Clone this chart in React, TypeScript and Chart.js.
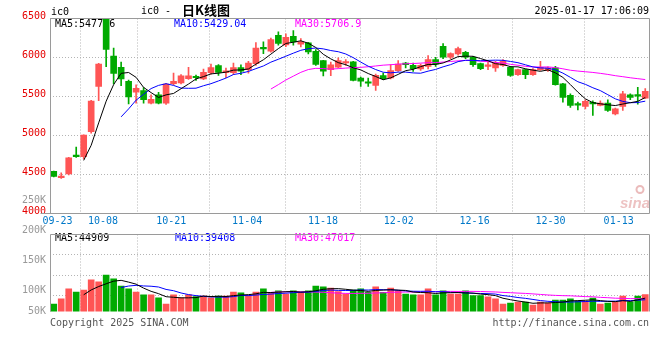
import React, { useEffect, useRef } from 'react';
import { Chart, registerables } from 'chart.js';

Chart.register(...registerables);

// ---------------- data ----------------
const dates = ['09-20','09-23','09-24','09-25','09-26','09-27','09-30','10-08','10-09','10-10','10-11','10-14','10-15','10-16','10-17','10-18','10-21','10-22','10-23','10-24','10-25','10-28','10-29','10-30','10-31','11-01','11-04','11-05','11-06','11-07','11-08','11-11','11-12','11-13','11-14','11-15','11-18','11-19','11-20','11-21','11-22','11-25','11-26','11-27','11-28','11-29','12-02','12-03','12-04','12-05','12-06','12-09','12-10','12-11','12-12','12-13','12-16','12-17','12-18','12-19','12-20','12-23','12-24','12-25','12-26','12-27','12-30','12-31','01-02','01-03','01-06','01-07','01-08','01-09','01-10','01-13','01-14','01-15','01-16','01-17'];

const opens = [4540,4460,4506,4750,4730,5049,5630,6520,6019,5875,
  5695,5555,5575,5415,5520,5415,5665,5675,5730,5750,
  5725,5805,5895,5805,5805,5870,5845,5920,6120,6080,
  6285,6160,6273,6170,6187,6080,5960,5845,5875,5930,
  5943,5737,5676,5643,5767,5737,5831,5930,5900,5853,
  5887,5973,6144,6003,6046,6067,6003,5921,5885,5866,
  5900,5874,5780,5844,5780,5844,5831,5866,5664,5514,
  5402,5372,5424,5385,5415,5278,5372,5522,5522,5479];

const highs = [4545,4520,4720,4850,5010,5450,5925,6560,6120,5940,
  5710,5650,5615,5520,5555,5665,5800,5780,5875,5775,
  5850,5915,5910,5865,5930,5905,5950,6190,6200,6250,
  6330,6303,6345,6243,6196,6100,5965,5940,5995,5973,
  5950,5750,5737,5788,5801,5908,5960,5938,5930,5917,
  6024,6003,6179,6059,6132,6080,6016,5930,5938,5951,
  5973,5887,5853,5853,5857,5951,5880,5887,5670,5535,
  5428,5458,5445,5445,5458,5351,5565,5535,5617,5600];

const lows = [4470,4450,4494,4720,4700,5030,5446,5882,5660,5640,
  5405,5415,5415,5405,5405,5400,5650,5660,5720,5705,
  5715,5785,5770,5740,5780,5780,5800,5900,6050,6068,
  6157,6140,6157,6136,6046,5900,5765,5767,5865,5900,
  5700,5630,5630,5578,5715,5724,5823,5865,5823,5835,
  5853,5887,5986,5986,6029,5986,5887,5844,5844,5823,
  5887,5758,5771,5728,5771,5835,5823,5645,5428,5360,
  5329,5342,5256,5380,5308,5265,5320,5458,5402,5471];

const closes = [4475,4480,4715,4730,5005,5442,5917,6105,5797,5725,
  5495,5605,5460,5465,5415,5660,5695,5765,5765,5740,
  5810,5870,5810,5830,5870,5825,5930,6120,6110,6230,
  6180,6260,6200,6200,6072,5910,5825,5905,5960,5940,
  5707,5695,5670,5771,5728,5831,5917,5908,5857,5900,
  5973,5917,6003,6050,6114,6003,5908,5857,5905,5930,
  5951,5771,5844,5780,5844,5874,5866,5651,5488,5385,
  5390,5437,5405,5415,5321,5342,5535,5488,5505,5565];

const volumes = [28500,41000,66000,58000,63000,88000,83000,100000,90500,73000,
  66000,58000,51000,51000,44000,28500,51000,44000,51000,47000,
  48000,44000,48000,48000,58000,56000,48000,58000,66000,56000,
  61000,53000,61000,58000,61000,73000,71000,68000,59000,53000,
  63000,66000,57000,71000,57000,68000,61000,53000,51000,51000,
  66000,51000,61000,53000,53000,61000,49000,49000,46000,41000,
  28500,31000,33000,33000,26000,33000,31000,38000,38000,41000,
  36000,36000,43000,28500,31000,33000,48000,34000,48000,52000];

const dateTicks = ['09-23','10-08','10-21','11-04','11-18','12-02','12-16','12-30','01-13'];
const priceTicks = [4000, 4500, 5000, 5500, 6000, 6500];
const volGridTicks = [50000, 100000, 150000];
const volAxisLabels = ['250K', '200K', '150K', '100K', '50K'];

const symbolText = 'ic0';
const titleText = 'ic0 -';
const titleCJK = '日K线图';
const timeText = '2025-01-17 17:06:09';
const priceLegend = [
  { text: 'MA5:5477.6', color: '#000000' },
  { text: 'MA10:5429.04', color: '#0000ff' },
  { text: 'MA30:5706.9', color: '#ff00ff' },
];
const volLegend = [
  { text: 'MA5:44909', color: '#000000' },
  { text: 'MA10:39408', color: '#0000ff' },
  { text: 'MA30:47017', color: '#ff00ff' },
];
const copyrightText = 'Copyright 2025 SINA.COM';
const urlText = 'http://finance.sina.com.cn';

// ---------------- style ----------------
const UP = '#ff5555';
const DOWN = '#00aa00';
const MONO = "'DejaVu Sans Mono', monospace";
const GRID = '#b4b4b4';
const FRAME = '#9a9a9a';

function movingAverage(values: number[], n: number): (number | null)[] {
  return values.map((_, i) => {
    if (i < n - 1) return null;
    let s = 0;
    for (let k = i - n + 1; k <= i; k++) s += values[k];
    return s / n;
  });
}

export default function App() {
  const priceRef = useRef<HTMLCanvasElement>(null);
  const volRef = useRef<HTMLCanvasElement>(null);

  useEffect(() => {
    const N = dates.length;
    const colors = dates.map((_, i) => (closes[i] >= opens[i] ? UP : DOWN));
    const xMin = -0.5;
    const xMax = N - 0.5;
    const gridValue = (label: string) => (dates.indexOf(label) * N) / (N - 1) - 0.5;
    const dateTickValues = dateTicks.map(gridValue);

    const ma5 = movingAverage(closes, 5);
    const ma10 = movingAverage(closes, 10);
    const ma30 = movingAverage(closes, 30);
    const vma5 = movingAverage(volumes, 5);
    const vma10 = movingAverage(volumes, 10);
    const vma30 = movingAverage(volumes, 30);

    const lineDs = (label: string, arr: (number | null)[], color: string) => ({
      type: 'line' as const,
      label,
      data: arr.map((v, i) => ({ x: i, y: v })),
      borderColor: color,
      borderWidth: 1,
      pointRadius: 0,
      tension: 0,
      spanGaps: false,
      order: 1,
    });

    const frame = (ctx: CanvasRenderingContext2D, area: any, bottom = true) => {
      const l = Math.round(area.left) + 0.5;
      const r = Math.round(area.right) + 0.5;
      const t = Math.round(area.top) + 0.5 - 1;
      const b = Math.round(area.bottom) + 0.5 - 1;
      ctx.save();
      ctx.strokeStyle = FRAME;
      ctx.lineWidth = 1;
      ctx.beginPath();
      ctx.moveTo(l, b + (bottom ? 0 : 0));
      ctx.lineTo(l, t);
      ctx.lineTo(r, t);
      ctx.lineTo(r, b);
      if (bottom) ctx.lineTo(l - 10, b);
      ctx.stroke();
      ctx.restore();
    };

    const pricePlugin = {
      id: 'priceDecor',
      beforeDatasetsDraw(chart: any) {
        const { ctx, chartArea } = chart;
        ctx.save();
        ctx.font = `10px ${MONO}`;
        ctx.textBaseline = 'middle';
        ctx.textAlign = 'left';
        const xs = [55, 174, 295];
        priceLegend.forEach((it, k) => {
          ctx.fillStyle = it.color;
          ctx.fillText(it.text, xs[k], chartArea.top + 5.5);
        });
        // watermark
        ctx.fillStyle = 'rgba(215,120,120,0.45)';
        ctx.font = `italic bold 15px 'Liberation Sans', sans-serif`;
        ctx.fillText('sina', chartArea.right - 29, chartArea.bottom - 10);
        ctx.strokeStyle = 'rgba(215,120,120,0.5)';
        ctx.lineWidth = 2;
        ctx.beginPath();
        ctx.arc(chartArea.right - 9, chartArea.bottom - 24, 3.5, 0, Math.PI * 2);
        ctx.stroke();
        ctx.restore();
      },
      afterDraw(chart: any) {
        const { ctx, chartArea } = chart;
        frame(ctx, chartArea, true);
        ctx.save();
        ctx.font = `10px ${MONO}`;
        ctx.textBaseline = 'middle';
        ctx.fillStyle = '#000';
        ctx.textAlign = 'left';
        ctx.fillText(symbolText, 51, 12);
        ctx.fillText(titleText, 141, 11);
        ctx.font = `bold 13px 'Noto Sans CJK SC', sans-serif`;
        ctx.fillText(titleCJK, 182, 10.5);
        ctx.font = `10px ${MONO}`;
        ctx.textAlign = 'right';
        ctx.fillText(timeText, 649, 11.5);
        ctx.restore();
      },
    };

    const volPlugin = {
      id: 'volDecor',
      beforeDatasetsDraw(chart: any) {
        const { ctx, chartArea } = chart;
        ctx.save();
        ctx.font = `10px ${MONO}`;
        ctx.textBaseline = 'middle';
        ctx.textAlign = 'left';
        const xs = [55, 175, 295];
        volLegend.forEach((it, k) => {
          ctx.fillStyle = it.color;
          ctx.fillText(it.text, xs[k], chartArea.top + 4);
        });
        ctx.restore();
      },
      afterDraw(chart: any) {
        const { ctx, chartArea } = chart;
        frame(ctx, chartArea, false);
        ctx.save();
        ctx.font = `10px ${MONO}`;
        ctx.textBaseline = 'middle';
        ctx.textAlign = 'right';
        ctx.fillStyle = '#999999';
        volAxisLabels.forEach((lbl, k) => {
          let y = chartArea.top - 4 + (k - 1) * 29.8;
          if (y > chartArea.bottom) y = chartArea.bottom;
          ctx.fillText(lbl, 46, y);
        });
        ctx.fillStyle = '#555555';
        ctx.textAlign = 'left';
        ctx.fillText(copyrightText, 50, 323.5);
        ctx.textAlign = 'right';
        ctx.fillText(urlText, 649, 323.5);
        ctx.restore();
      },
    };

    const common = {
      responsive: false,
      animation: false as const,
      devicePixelRatio: 1,
      events: [] as any[],
    };

    const priceChart = new Chart(priceRef.current as HTMLCanvasElement, {
      type: 'bar',
      data: {
        datasets: [
          lineDs('MA5', ma5, '#000000'),
          lineDs('MA10', ma10, '#0000ff'),
          lineDs('MA30', ma30, '#ff00ff'),
          {
            type: 'bar',
            label: 'body',
            data: dates.map((_, i) => ({ x: i, y: [opens[i], closes[i]] })),
            backgroundColor: colors,
            barThickness: 6,
            minBarLength: 1.5,
            grouped: false,
            order: 2,
          },
          {
            type: 'bar',
            label: 'wick',
            data: dates.map((_, i) => ({ x: i, y: [lows[i], highs[i]] })),
            backgroundColor: colors,
            barThickness: 1,
            grouped: false,
            order: 3,
          },
        ] as any,
      },
      options: {
        ...common,
        layout: { padding: { top: 18.5, right: 11, bottom: 360 - 213.5 - 18, left: 0 } },
        plugins: { legend: { display: false }, tooltip: { enabled: false } },
        scales: {
          x: {
            type: 'linear',
            min: xMin,
            max: xMax,
            offset: false,
            afterBuildTicks: (axis: any) => {
              axis.ticks = dateTickValues.map((v) => ({ value: v }));
            },
            afterFit: (axis: any) => {
              axis.height = 18;
            },
            ticks: {
              autoSkip: false,
              maxRotation: 0,
              padding: 2,
              color: '#0078c8',
              font: { family: MONO, size: 10 },
              callback: (_v: any, idx: number) => dateTicks[idx],
            },
            grid: { color: GRID, drawTicks: false, lineWidth: 1 },
            border: { display: false, dash: [1, 2] },
          },
          y: {
            min: 4000,
            max: 6500,
            afterBuildTicks: (axis: any) => {
              axis.ticks = priceTicks.map((v) => ({ value: v }));
            },
            afterFit: (axis: any) => {
              axis.width = 50;
            },
            ticks: {
              color: '#e60000',
              font: { family: MONO, size: 10 },
              padding: 4,
              labelOffset: -2,
              callback: (v: any) => String(v),
            },
            grid: { color: GRID, drawTicks: false, lineWidth: 1 },
            border: { display: false, dash: [1, 2] },
          },
        },
      } as any,
      plugins: [pricePlugin],
    });

    const volChart = new Chart(volRef.current as HTMLCanvasElement, {
      type: 'bar',
      data: {
        datasets: [
          lineDs('VMA5', vma5, '#000000'),
          lineDs('VMA10', vma10, '#0000ff'),
          lineDs('VMA30', vma30, '#ff00ff'),
          {
            type: 'bar',
            label: 'volume',
            data: dates.map((_, i) => ({ x: i, y: volumes[i] })),
            backgroundColor: colors,
            barThickness: 6,
            grouped: false,
            order: 2,
          },
        ] as any,
      },
      options: {
        ...common,
        layout: { padding: { top: 234.5, right: 11, bottom: 360 - 311.5, left: 0 } },
        plugins: { legend: { display: false }, tooltip: { enabled: false } },
        scales: {
          x: {
            type: 'linear',
            min: xMin,
            max: xMax,
            offset: false,
            afterBuildTicks: (axis: any) => {
              axis.ticks = dateTickValues.map((v) => ({ value: v }));
            },
            afterFit: (axis: any) => {
              axis.height = 0;
            },
            ticks: { display: false },
            grid: { color: GRID, drawTicks: false, lineWidth: 1 },
            border: { display: false, dash: [1, 2] },
          },
          y: {
            min: 10000,
            max: 200000,
            afterBuildTicks: (axis: any) => {
              axis.ticks = volGridTicks.map((v) => ({ value: v }));
            },
            afterFit: (axis: any) => {
              axis.width = 50;
            },
            ticks: { display: false },
            grid: { color: GRID, drawTicks: false, lineWidth: 1 },
            border: { display: false, dash: [1, 2] },
          },
        },
      } as any,
      plugins: [volPlugin],
    });

    return () => {
      priceChart.destroy();
      volChart.destroy();
    };
  }, []);

  return (
    <div style={{ position: 'absolute', left: 0, top: 0, width: 660, height: 360, background: '#fff' }}>
      <canvas ref={priceRef} width={660} height={360} style={{ position: 'absolute', left: 0, top: 0 }} />
      <canvas ref={volRef} width={660} height={360} style={{ position: 'absolute', left: 0, top: 0 }} />
    </div>
  );
}
